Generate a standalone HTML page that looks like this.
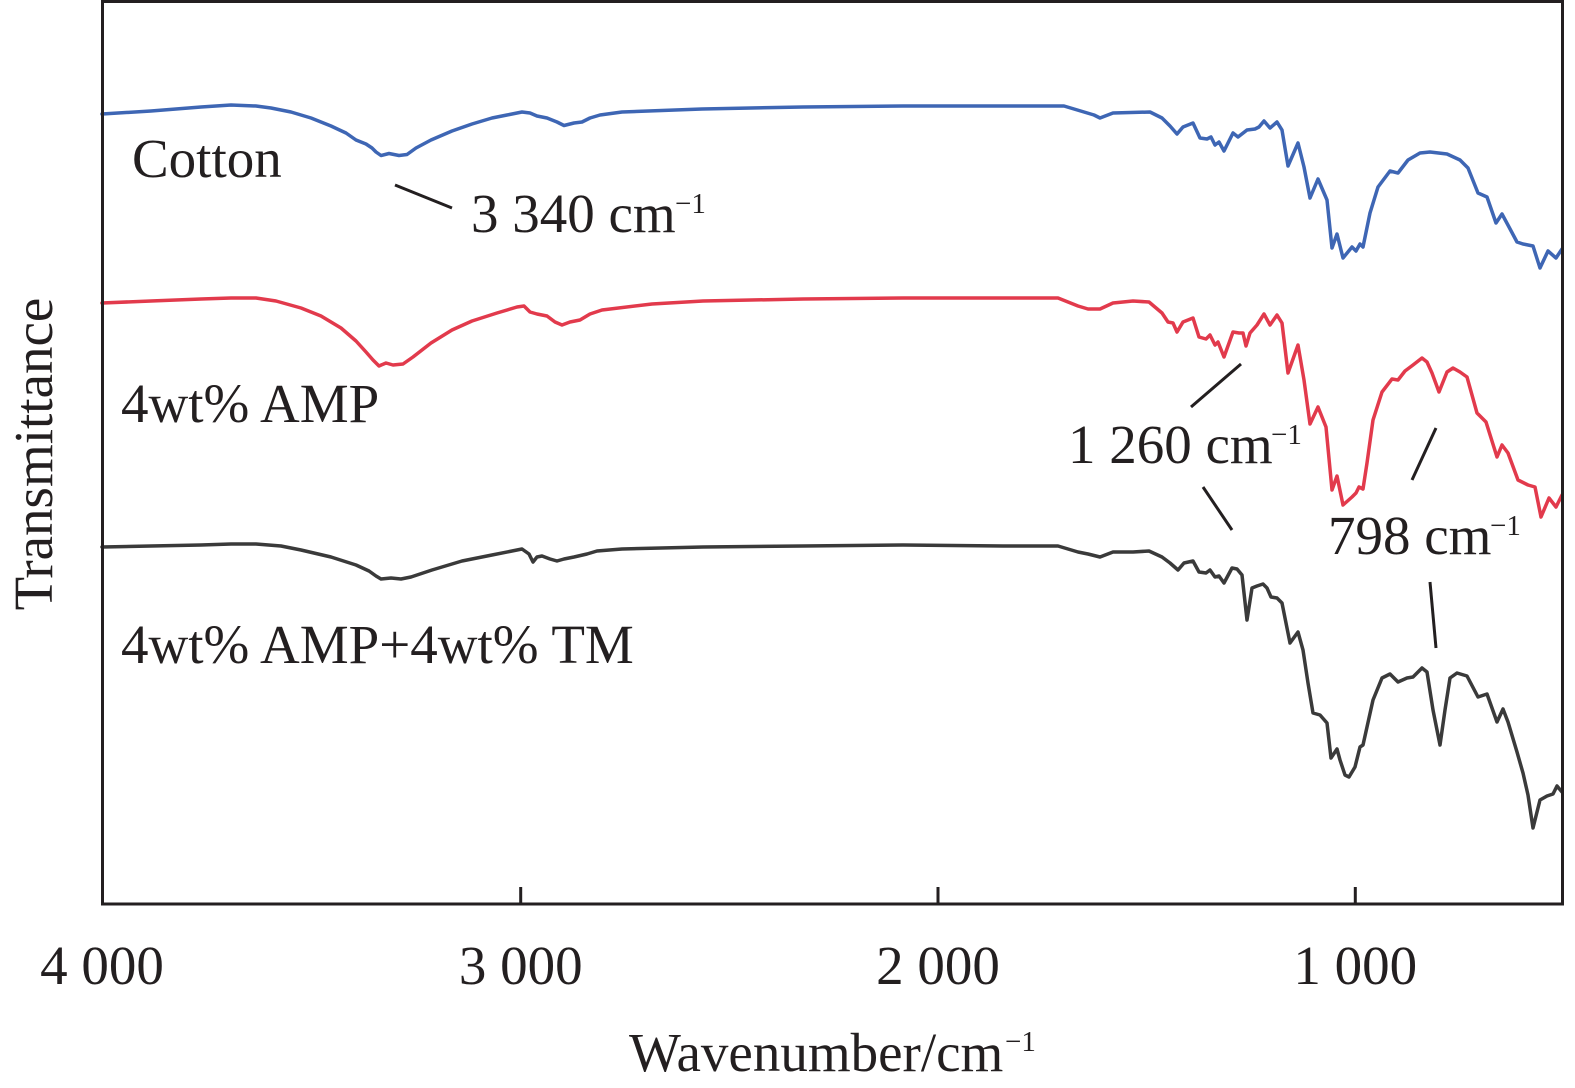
<!DOCTYPE html>
<html>
<head>
<meta charset="utf-8">
<style>
  html, body { margin: 0; padding: 0; background: #ffffff; }
  svg { display: block; }
  text { font-family: "Liberation Serif", "Times New Roman", serif; fill: #231f20; }
</style>
</head>
<body>
<svg width="1575" height="1088" viewBox="0 0 1575 1088" xmlns="http://www.w3.org/2000/svg">
  <rect x="0" y="0" width="1575" height="1088" fill="#ffffff"/>

  <!-- Cotton (blue) -->
  <polyline fill="none" stroke="#3e66b4" stroke-width="3.5" stroke-linejoin="round" stroke-linecap="round" points="
    102,114 151,111 201,107 231,105 256,106 271,108 291,112 311,118 331,126 346,133 356,140 366,144 372,148 376,152 381,155.5 389,153.5 399,155.5 407,154.5 416,148 431,140 452,131 472,124 492,118 507,115 522,112 530,113 537,116 547,118 557,122 564,125.5 574,123 582,122 590,118 600,115 622,112 702,109 803,107 903,106 1003,106 1064,106 1074,109 1084,112 1094,115 1100,118
    1113,113 1150,112 1162,118 1170,126 1177,134 1183,127 1193,123 1200,138 1207,139 1211,137 1215,145 1219,142 1224,151 1233,133 1238,137 1247,130 1255,129 1259,127 1264,121 1270,128 1277,122 1282,130 1288,166 1298,143 1304,167 1310,198 1318,179 1327,200 1332,248 1337,234 1343,258 1352,247 1356,251 1360,244 1363,247 1370,213 1378,187 1390,171 1398,173 1408,160 1420,153 1430,152 1447,154 1460,160 1468,168 1478,193 1487,197 1496,223 1502,214 1509,227 1517,242 1523,244 1533,246 1540,268 1548,251 1556,258 1562,249"/>

  <!-- 4wt% AMP (red) -->
  <polyline fill="none" stroke="#e23a4c" stroke-width="3.5" stroke-linejoin="round" stroke-linecap="round" points="
    102,303 151,301 201,299 231,298 256,298 276,301 301,308 321,316 341,328 356,341 366,352 373,360 379,366 386,363 393,365 403,364 413,357 431,343 452,330 472,321 497,313 517,307 524,306 530,312 537,314 547,316 555,322 562,325 570,322 580,320 590,314 602,310 652,304 703,301 803,299 903,298 1003,298 1058,298 1068,302 1078,306 1088,309 1100,309
    1113,303 1133,301 1149,302 1162,313 1168,322 1173,323 1177,332 1183,322 1193,318 1199,337 1206,339 1210,335 1215,345 1218,342 1224,357 1233,332 1239,333 1243,333 1246,346 1250,333 1257,325 1264,314 1270,325 1277,315 1282,323 1288,373 1298,345 1304,380 1310,424 1318,407 1326,427 1332,490 1337,476 1343,505 1352,497 1356,493 1359,487 1363,489 1367,463 1373,420 1382,392 1392,379 1398,380 1405,371 1413,365 1422,358 1427,362 1432,373 1439,392 1447,372 1453,368 1460,372 1467,377 1477,413 1486,422 1497,457 1502,445 1508,453 1518,480 1528,485 1535,487 1541,517 1549,498 1556,507 1562,495"/>

  <!-- 4wt% AMP+4wt% TM (black) -->
  <polyline fill="none" stroke="#3a3a3a" stroke-width="3.5" stroke-linejoin="round" stroke-linecap="round" points="
    102,547 151,546 201,545 231,544 256,544 281,546 301,550 331,557 356,565 369,571 376,576 381,579 391,578 401,579 411,577 432,570 462,561 492,555 517,550 522,549 529,554 533,562 537,557 542,556 550,559 557,561 564,559 574,557 587,554 597,551 622,549 703,547 803,546 903,545 1003,546 1058,546 1068,549 1078,552 1088,554 1100,557
    1113,552 1133,552 1149,551 1162,557 1170,563 1178,570 1184,563 1193,561 1199,572 1206,573 1210,570 1215,577 1219,576 1224,583 1232,568 1237,569 1242,575 1247,620 1252,588 1257,586 1263,584 1267,588 1271,597 1277,598 1282,603 1290,643 1298,632 1303,650 1308,683 1313,713 1320,715 1327,723 1331,758 1337,749 1340,760 1345,775 1349,777 1355,767 1360,747 1363,745 1367,727 1373,700 1382,678 1390,674 1398,682 1407,678 1413,677 1422,668 1427,672 1433,710 1440,745 1445,710 1450,678 1457,673 1467,676 1478,697 1487,694 1497,722 1503,709 1508,722 1517,752 1523,773 1528,795 1533,828 1540,800 1547,796 1553,794 1557,786 1562,792"/>

  <!-- Frame -->
  <rect x="102.5" y="1.5" width="1460" height="902.5" fill="none" stroke="#231f20" stroke-width="3"/>
  <!-- Ticks -->
  <g stroke="#231f20" stroke-width="3">
    <line x1="520.7" y1="887" x2="520.7" y2="904"/>
    <line x1="938" y1="887" x2="938" y2="904"/>
    <line x1="1355.3" y1="887" x2="1355.3" y2="904"/>
  </g>

  <!-- Annotation lines -->
  <g stroke="#231f20" stroke-width="3" stroke-linecap="butt">
    <line x1="395" y1="185" x2="452" y2="208"/>
    <line x1="1241" y1="364" x2="1191" y2="407"/>
    <line x1="1203" y1="487" x2="1232" y2="530"/>
    <line x1="1436" y1="428" x2="1412" y2="480"/>
    <line x1="1430" y1="582" x2="1436" y2="648"/>
  </g>

  <!-- Tick labels -->
  <g font-size="55" text-anchor="middle">
    <text x="102" y="984">4 000</text>
    <text x="520.7" y="984">3 000</text>
    <text x="938" y="984">2 000</text>
    <text x="1355.3" y="984">1 000</text>
  </g>

  <!-- Axis titles -->
  <text x="629" y="1071" font-size="55">Wavenumber/cm</text>
  <text x="1005" y="1051" font-size="29">−1</text>
  <text transform="translate(52,454) rotate(-90)" font-size="55" text-anchor="middle">Transmittance</text>

  <!-- Series labels -->
  <text x="132" y="177" font-size="55">Cotton</text>
  <text x="121" y="422" font-size="55">4wt% AMP</text>
  <text x="121" y="663" font-size="55">4wt% AMP+4wt% TM</text>

  <!-- Peak labels -->
  <text x="471" y="232" font-size="55">3 340 cm</text>
  <text x="675" y="213" font-size="29">−1</text>

  <text x="1068" y="463" font-size="55">1 260 cm</text>
  <text x="1271" y="444" font-size="29">−1</text>

  <text x="1328" y="554" font-size="55">798 cm</text>
  <text x="1490" y="535" font-size="29">−1</text>
</svg>
</body>
</html>
